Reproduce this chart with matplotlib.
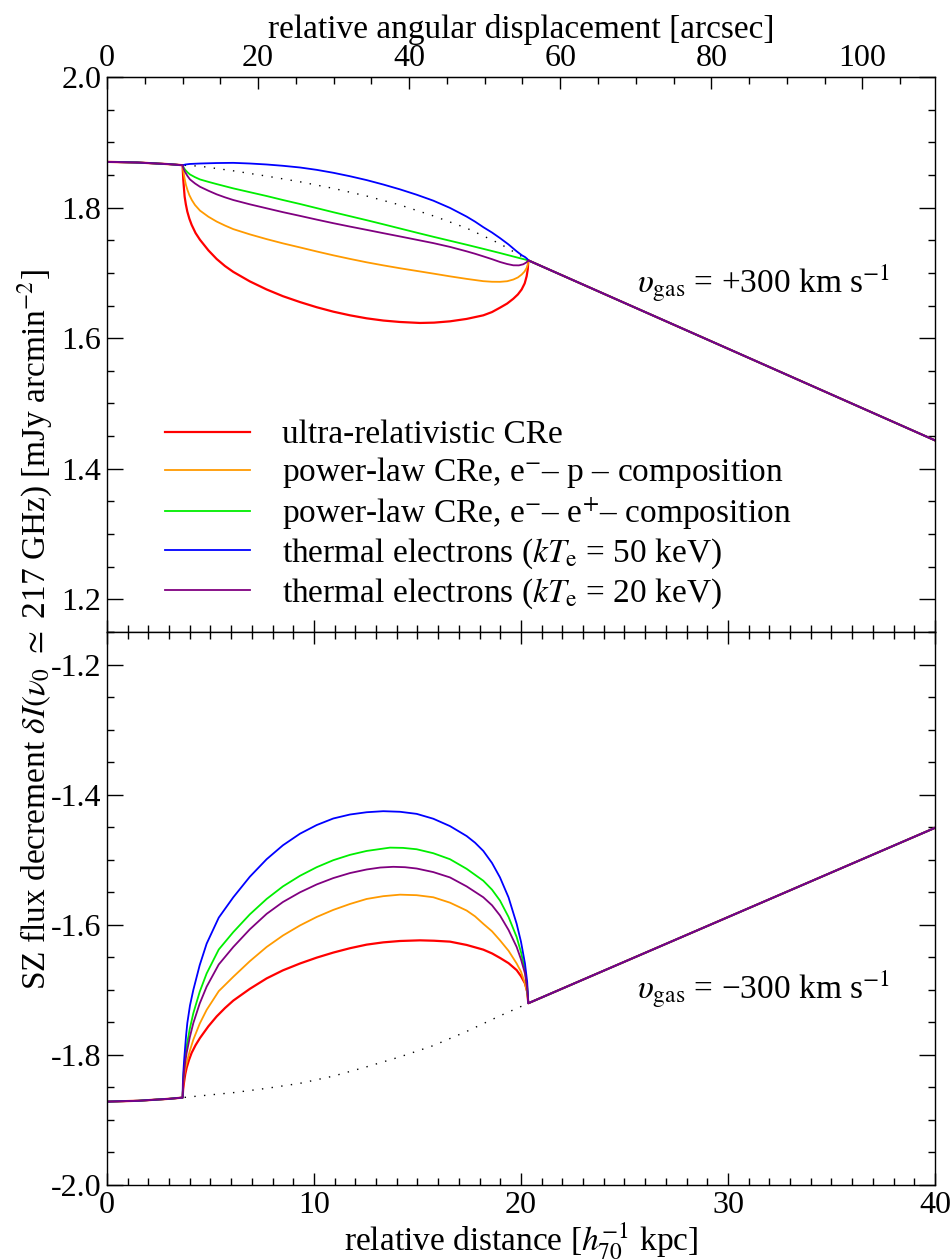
import numpy as np
import matplotlib
matplotlib.use('Agg')
import matplotlib.pyplot as plt
from matplotlib.ticker import MultipleLocator, FixedLocator, FormatStrFormatter

plt.rcParams['font.family'] = ['Liberation Serif', 'DejaVu Serif']
plt.rcParams['mathtext.fontset'] = 'stix'

# conversion between projected distance and angular offset
ARCSEC_PER_KPC = 2.74

# shared profile outside the bubble (x in kpc)
x_left = [0.0, 1.5, 3.0, 3.655]
x_right = [20.354, 25.0, 30.0, 35.0, 40.0]
top_left = [1.870, 1.8690, 1.8665, 1.8649]
top_right = [1.7192, 1.6540, 1.5839, 1.5137, 1.4435]
bot_left = [-1.8718, -1.8705, -1.8675, -1.8656]
bot_right = [-1.7206, -1.6568, -1.5882, -1.5196, -1.4510]

# profile without the bubble (dotted)
x_ref = [3.655, 4.493, 6.103, 7.713, 9.324, 10.934, 12.544, 14.155, 15.765, 17.375, 18.986, 20.354]
top_ref = [1.8649, 1.8634, 1.8563, 1.8482, 1.8395, 1.8294, 1.8177, 1.8040, 1.7873, 1.7685, 1.7446, 1.7192]
x_ref_b = [3.655, 6.103, 7.713, 9.324, 10.934, 12.544, 14.155, 15.765, 17.375, 18.986, 20.354]
bot_ref = [-1.8656, -1.8580, -1.8514, -1.8437, -1.8326, -1.8183, -1.8030, -1.7857, -1.7639, -1.7399, -1.7206]

# v_gas = +300 km/s, bubble filled with different electron populations
x_red_t = [3.655, 3.665, 3.688, 3.720, 3.752, 3.810, 3.881, 3.980, 4.090, 4.280, 4.493, 4.900, 5.298,
           5.700, 6.103, 6.900, 7.713, 8.500, 9.324, 10.130, 10.934, 11.740, 12.544, 13.350, 14.155,
           15.121, 15.800, 16.570, 17.375, 18.180, 18.600, 18.986, 19.330, 19.630, 19.850, 20.032,
           20.180, 20.274, 20.330, 20.354]
y_red_t = [1.8649, 1.8560, 1.8421, 1.8290, 1.8167, 1.8050, 1.7939, 1.7830, 1.7736, 1.7610, 1.7507,
           1.7345, 1.7213, 1.7105, 1.7015, 1.6870, 1.6746, 1.6643, 1.6553, 1.6474, 1.6406, 1.6350,
           1.6304, 1.6270, 1.6248, 1.6233, 1.6238, 1.6258, 1.6295, 1.6350, 1.6400, 1.6467, 1.6530,
           1.6604, 1.6670, 1.6746, 1.6840, 1.6949, 1.7060, 1.7192]

x_orange_t = [3.655, 3.685, 3.720, 3.765, 3.817, 3.890, 3.978, 4.100, 4.251, 4.493, 4.900, 5.298,
              5.700, 6.103, 6.900, 7.713, 8.500, 9.324, 10.130, 10.934, 11.740, 12.544, 13.350,
              14.155, 14.960, 15.765, 16.570, 17.375, 18.180, 18.600, 18.986, 19.330, 19.630,
              19.850, 20.032, 20.170, 20.274, 20.330, 20.354]
y_orange_t = [1.8649, 1.8570, 1.8497, 1.8420, 1.8345, 1.8268, 1.8192, 1.8115, 1.8040, 1.7954, 1.7860,
              1.7786, 1.7725, 1.7670, 1.7590, 1.7517, 1.7452, 1.7390, 1.7328, 1.7269, 1.7214, 1.7162,
              1.7115, 1.7071, 1.7030, 1.6989, 1.6947, 1.6908, 1.6873, 1.6864, 1.6863, 1.6872, 1.6898,
              1.6930, 1.6974, 1.7020, 1.7076, 1.7130, 1.7192]

x_green_t = [3.655, 3.700, 3.768, 3.880, 4.010, 4.250, 4.493, 4.900, 5.298, 5.700, 6.103, 6.900,
             7.713, 8.500, 9.324, 10.130, 10.934, 11.740, 12.544, 13.350, 14.155, 14.960, 15.765,
             16.570, 17.375, 18.180, 18.986, 19.700, 20.354]
y_green_t = [1.8649, 1.8615, 1.8583, 1.8543, 1.8507, 1.8466, 1.8431, 1.8394, 1.8360, 1.8327, 1.8294,
             1.8236, 1.8177, 1.8116, 1.8055, 1.7992, 1.7929, 1.7868, 1.7807, 1.7744, 1.7680, 1.7616,
             1.7553, 1.7492, 1.7431, 1.7368, 1.7304, 1.7245, 1.7192]

x_blue_t = [3.655, 3.800, 4.000, 4.493, 5.298, 6.103, 6.900, 7.713, 8.500, 9.324, 10.130, 10.934,
            11.740, 12.544, 13.350, 14.155, 14.960, 15.765, 16.570, 17.375, 17.780, 18.180, 18.600,
            18.986, 19.400, 19.791, 20.050, 20.193, 20.300, 20.354]
y_blue_t = [1.8649, 1.8660, 1.8668, 1.8675, 1.8682, 1.8685, 1.8675, 1.8660, 1.8640, 1.8614, 1.8578,
            1.8533, 1.8480, 1.8421, 1.8353, 1.8279, 1.8197, 1.8106, 1.7995, 1.7862, 1.7785, 1.7700,
            1.7618, 1.7533, 1.7435, 1.7330, 1.7268, 1.7243, 1.7215, 1.7192]

x_purple_t = [3.655, 3.700, 3.768, 3.880, 4.010, 4.250, 4.493, 4.900, 5.298, 5.700, 6.103, 6.900,
              7.713, 8.500, 9.324, 10.130, 10.934, 11.740, 12.544, 13.350, 14.155, 14.960, 15.765,
              16.570, 17.375, 17.780, 18.180, 18.600, 18.986, 19.330, 19.630, 19.900, 20.113,
              20.260, 20.354]
y_purple_t = [1.8649, 1.8595, 1.8548, 1.8488, 1.8431, 1.8370, 1.8319, 1.8258, 1.8203, 1.8157, 1.8116,
              1.8050, 1.7989, 1.7930, 1.7873, 1.7816, 1.7761, 1.7709, 1.7659, 1.7608, 1.7558, 1.7507,
              1.7456, 1.7398, 1.7330, 1.7293, 1.7253, 1.7210, 1.7167, 1.7136, 1.7116, 1.7115, 1.7132,
              1.7160, 1.7192]

# v_gas = -300 km/s
x_red_b = [3.655, 3.680, 3.720, 3.780, 3.849, 3.960, 4.090, 4.280, 4.493, 4.900, 5.298, 5.700,
           6.103, 6.900, 7.713, 8.500, 9.324, 10.130, 10.934, 11.740, 12.544, 13.350, 14.155,
           15.121, 15.800, 16.570, 17.375, 18.180, 18.600, 18.986, 19.400, 19.791, 20.000,
           20.193, 20.300, 20.354]
y_red_b = [-1.8656, -1.8530, -1.8427, -1.8300, -1.8198, -1.8080, -1.7969, -1.7850, -1.7740, -1.7560,
           -1.7409, -1.7280, -1.7165, -1.6985, -1.6824, -1.6700, -1.6595, -1.6505, -1.6427, -1.6360,
           -1.6305, -1.6270, -1.6249, -1.6239, -1.6245, -1.6259, -1.6310, -1.6382, -1.6440, -1.6509,
           -1.6590, -1.6697, -1.6790, -1.6901, -1.7030, -1.7206]

x_orange_b = [3.655, 3.680, 3.720, 3.780, 3.849, 4.000, 4.171, 4.480, 4.815, 5.400, 6.103, 6.900,
              7.713, 8.500, 9.324, 10.130, 10.934, 11.740, 12.544, 13.350, 14.155, 14.960, 15.765,
              16.570, 17.375, 17.780, 18.180, 18.600, 18.986, 19.400, 19.791, 20.000, 20.193,
              20.300, 20.354]
y_orange_b = [-1.8656, -1.8480, -1.8325, -1.8210, -1.8122, -1.7940, -1.7766, -1.7520, -1.7308,
              -1.7020, -1.6799, -1.6560, -1.6341, -1.6165, -1.6010, -1.5880, -1.5771, -1.5680,
              -1.5603, -1.5560, -1.5537, -1.5545, -1.5577, -1.5660, -1.5781, -1.5870, -1.5985,
              -1.6100, -1.6239, -1.6400, -1.6595, -1.6720, -1.6901, -1.7040, -1.7206]

x_green_b = [3.655, 3.675, 3.720, 3.780, 3.849, 4.000, 4.171, 4.480, 4.815, 5.400, 6.103, 6.900,
             7.713, 8.500, 9.324, 10.130, 10.934, 11.740, 12.544, 13.671, 14.300, 14.960, 15.765,
             16.570, 17.375, 18.180, 18.600, 18.986, 19.400, 19.791, 20.000, 20.193, 20.300, 20.354]
y_green_b = [-1.8656, -1.8420, -1.8224, -1.8030, -1.7867, -1.7600, -1.7359, -1.7030, -1.6748,
             -1.6380, -1.6112, -1.5840, -1.5603, -1.5410, -1.5247, -1.5115, -1.5007, -1.4925,
             -1.4865, -1.4814, -1.4818, -1.4839, -1.4900, -1.4992, -1.5140, -1.5323, -1.5460,
             -1.5628, -1.5880, -1.6188, -1.6420, -1.6697, -1.6950, -1.7206]

x_blue_b = [3.655, 3.665, 3.688, 3.725, 3.768, 3.820, 3.881, 4.010, 4.171, 4.480, 4.815, 5.400,
            6.103, 6.900, 7.713, 8.500, 9.324, 10.130, 10.934, 11.740, 12.544, 13.349, 14.155,
            14.960, 15.765, 16.570, 17.375, 17.780, 18.180, 18.600, 18.986, 19.400, 19.791,
            20.000, 20.193, 20.300, 20.354]
y_blue_b = [-1.8656, -1.8450, -1.8275, -1.8090, -1.7918, -1.7710, -1.7511, -1.7240, -1.7002, -1.6620,
            -1.6290, -1.5890, -1.5577, -1.5262, -1.4992, -1.4778, -1.4600, -1.4467, -1.4366, -1.4305,
            -1.4270, -1.4254, -1.4263, -1.4295, -1.4370, -1.4483, -1.4636, -1.4738, -1.4865, -1.5050,
            -1.5272, -1.5580, -1.5985, -1.6260, -1.6595, -1.6880, -1.7206]

x_purple_b = [3.655, 3.680, 3.720, 3.780, 3.849, 4.000, 4.171, 4.480, 4.815, 5.400, 6.103, 6.900,
              7.713, 8.500, 9.324, 10.130, 10.934, 11.740, 12.544, 13.200, 13.832, 14.400, 14.960,
              15.765, 16.570, 17.375, 18.180, 18.600, 18.986, 19.400, 19.791, 20.000, 20.193,
              20.300, 20.354]
y_purple_b = [-1.8656, -1.8450, -1.8275, -1.8110, -1.7969, -1.7730, -1.7511, -1.7210, -1.6951,
              -1.6610, -1.6341, -1.6070, -1.5832, -1.5650, -1.5501, -1.5380, -1.5282, -1.5205,
              -1.5150, -1.5120, -1.5109, -1.5115, -1.5135, -1.5190, -1.5272, -1.5410, -1.5577,
              -1.5700, -1.5857, -1.6080, -1.6341, -1.6530, -1.6748, -1.6980, -1.7206]

labels = ['ultra-relativistic CRe',
          'power-law CRe, e$^{-}$\u2013 p \u2013 composition',
          'power-law CRe, e$^{-}$\u2013 e$^{+}$\u2013 composition',
          'thermal electrons ($kT_{\\rm e}$ = 50 keV)',
          'thermal electrons ($kT_{\\rm e}$ = 20 keV)']
colors = ['#ff0000', '#ff9a00', '#00ee00', '#0000ff', '#800080']

top_curves = [(x_red_t, y_red_t), (x_orange_t, y_orange_t), (x_green_t, y_green_t),
              (x_blue_t, y_blue_t), (x_purple_t, y_purple_t)]
bot_curves = [(x_red_b, y_red_b), (x_orange_b, y_orange_b), (x_green_b, y_green_b),
              (x_blue_b, y_blue_b), (x_purple_b, y_purple_b)]

FS = 24      # labels, legend, annotations
TFS = 23     # tick labels

fig = plt.figure(figsize=(9.5, 12.6), dpi=100)
ax1 = fig.add_axes([0.1126, 0.4984, 0.8716, 0.4405])
ax2 = fig.add_axes([0.1126, 0.0595, 0.8716, 0.4389])


def draw_panel(ax, curves, left, right, xr, yr):
    # reference profile without bubble
    ax.plot(np.concatenate([x_left, xr, x_right]), np.concatenate([left, yr, right]),
            color='black', lw=1.0, ls=(0, (1, 6)), zorder=1)
    handles = []
    for (xs, ys), c in zip(curves, colors):
        xx = np.concatenate([x_left, xs, x_right])
        yy = np.concatenate([left, ys, right])
        lw = 1.6 if c == '#ff0000' else 1.3
        h, = ax.plot(xx, yy, color=c, lw=lw, zorder=2, solid_joinstyle='round')
        handles.append(h)
    return handles


handles = draw_panel(ax1, top_curves, top_left, top_right, x_ref, top_ref)
draw_panel(ax2, bot_curves, bot_left, bot_right, x_ref_b, bot_ref)

ax1.set_xlim(0, 40)
ax2.set_xlim(0, 40)
ax1.set_ylim(1.15, 2.0)
ax2.set_ylim(-2.0, -1.15)

for ax in (ax1, ax2):
    ax.xaxis.set_major_locator(MultipleLocator(10))
    ax.xaxis.set_minor_locator(MultipleLocator(1))
    ax.yaxis.set_major_locator(MultipleLocator(0.2))
    ax.yaxis.set_minor_locator(MultipleLocator(0.05))
    ax.yaxis.set_major_formatter(FormatStrFormatter('%.1f'))
    ax.tick_params(axis='y', which='both', direction='in', left=True, right=True, labelsize=TFS)
    ax.tick_params(axis='y', which='major', length=11.5, width=1.0, pad=4)
    ax.tick_params(axis='y', which='minor', length=5, width=1.0)
    ax.tick_params(axis='x', which='major', length=8.5, width=1.0, pad=4.5, labelsize=TFS)
    ax.tick_params(axis='x', which='minor', length=5, width=1.0)
    for s in ax.spines.values():
        s.set_linewidth(1.0)

ax1.tick_params(axis='x', which='both', direction='in', top=False, bottom=True, labelbottom=False)
ax2.tick_params(axis='x', which='both', direction='in', top=True, bottom=True, labelbottom=True)

# angular scale on top
sec = ax1.secondary_xaxis('top', functions=(lambda k: k * ARCSEC_PER_KPC,
                                            lambda a: a / ARCSEC_PER_KPC))
sec.xaxis.set_major_locator(FixedLocator([0, 20, 40, 60, 80, 100]))
sec.xaxis.set_minor_locator(FixedLocator(np.arange(5, 106, 5)))
sec.tick_params(axis='x', which='both', direction='in', labelsize=TFS)
sec.tick_params(axis='x', which='major', length=8.5, width=1.0, pad=3)
sec.tick_params(axis='x', which='minor', length=5, width=1.0)
sec.set_xlabel('relative angular displacement [arcsec]', fontsize=FS, labelpad=4)

ax2.set_xlabel('relative distance [$h_{70}^{-1}$ kpc]', fontsize=FS, labelpad=0.5)
fig.text(0.037, 0.5,
         'SZ flux decrement $\\delta I(\\nu_0\\ \\simeq\\ $217 GHz) [mJy arcmin$^{-2}$]',
         rotation=90, ha='center', va='center', fontsize=FS)

ax1.text(0.640, 0.629, '$\\upsilon_{\\rm gas}$ = +300 km s$^{-1}$', transform=ax1.transAxes,
         fontsize=FS, va='center', ha='left')
ax2.text(0.640, 0.355, '$\\upsilon_{\\rm gas}$ = \u2212300 km s$^{-1}$', transform=ax2.transAxes,
         fontsize=FS, va='center', ha='left')

ax1.legend(handles, labels, loc='upper left', bbox_to_anchor=(165 / 950, 1 - 420 / 1260),
           bbox_transform=fig.transFigure, frameon=False, fontsize=FS, handlelength=2.55,
           handletextpad=0.95, labelspacing=0.15, borderpad=0, borderaxespad=0)

fig.savefig('out.png', dpi=100)
